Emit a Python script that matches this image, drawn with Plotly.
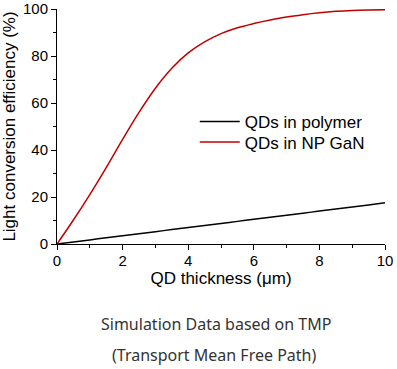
import plotly.graph_objects as go

thickness = [0, 0.5, 1, 1.5, 2, 2.5, 3, 3.5, 4, 4.5, 5, 5.5, 6, 6.5, 7, 7.5, 8, 8.5, 9, 9.5, 10]
eff_gan = [0, 10.2, 21, 32.5, 44.5, 56, 66.3, 74.8, 81.3, 86, 89.5, 92, 93.8, 95.3, 96.6, 97.6, 98.4, 99, 99.4, 99.6, 99.7]
eff_polymer = [0, 0.88, 1.75, 2.63, 3.5, 4.38, 5.25, 6.13, 7.0, 7.88, 8.75, 9.63, 10.5, 11.38, 12.25, 13.13, 14.0, 14.88, 15.75, 16.63, 17.6]

FONT = "Liberation Sans, Arial, sans-serif"

fig = go.Figure()
fig.add_trace(go.Scatter(x=thickness, y=eff_polymer, mode="lines", name="QDs in polymer",
                         legend="legend",
                         line=dict(color="black", width=1.5, shape="spline")))
fig.add_trace(go.Scatter(x=thickness, y=eff_gan, mode="lines", name="QDs in NP GaN",
                         legend="legend2",
                         line=dict(color="#c00000", width=1.5, shape="spline")))

legend_common = dict(xanchor="left", yanchor="middle", bgcolor="rgba(0,0,0,0)",
                     font=dict(family=FONT, size=17, color="black"), itemwidth=40)

fig.update_layout(
    width=397, height=369,
    margin=dict(l=57, r=12, t=9, b=125),
    paper_bgcolor="white", plot_bgcolor="white",
    font=dict(family=FONT, size=15, color="black"),
    showlegend=True,
    legend=dict(x=0.42, y=(244 - 122) / 235, **legend_common),
    legend2=dict(x=0.42, y=(244 - 142.5) / 235, **legend_common),
    xaxis=dict(range=[0, 10], dtick=2, showline=True, linecolor="black", linewidth=1,
               ticks="outside", ticklen=5, tickcolor="black", showgrid=False, zeroline=False,
               automargin=False, ticklabelstandoff=-2,
               minor=dict(dtick=1, ticks="outside", ticklen=3, tickcolor="black"),
               title=dict(text="QD thickness (\u03bcm)", font=dict(family=FONT, size=17), standoff=0),
               tickfont=dict(family=FONT, size=15)),
    yaxis=dict(range=[0, 100], dtick=20, showline=True, linecolor="black", linewidth=1,
               ticks="outside", ticklen=5, tickcolor="black", showgrid=False, zeroline=False,
               automargin=False,
               minor=dict(dtick=10, ticks="outside", ticklen=3, tickcolor="black"),
               title=dict(text="Light conversion efficiency (%)", font=dict(family=FONT, size=17), standoff=4),
               tickfont=dict(family=FONT, size=15)),
    annotations=[
        dict(text="Simulation Data based on TMP", xref="paper", yref="paper",
             x=(216 - 57) / 328, y=-(324 - 244) / 235, xanchor="center", yanchor="middle",
             showarrow=False, font=dict(family="Noto Sans, sans-serif", size=16, color="#333333")),
        dict(text="(Transport Mean Free Path)", xref="paper", yref="paper",
             x=(214 - 57) / 328, y=-(355 - 244) / 235, xanchor="center", yanchor="middle",
             showarrow=False, font=dict(family="Noto Sans, sans-serif", size=16, color="#333333")),
    ],
)

fig.write_html("out.html", config={"displayModeBar": False},
               post_script="document.body.style.margin='0';document.body.style.overflow='hidden';")
